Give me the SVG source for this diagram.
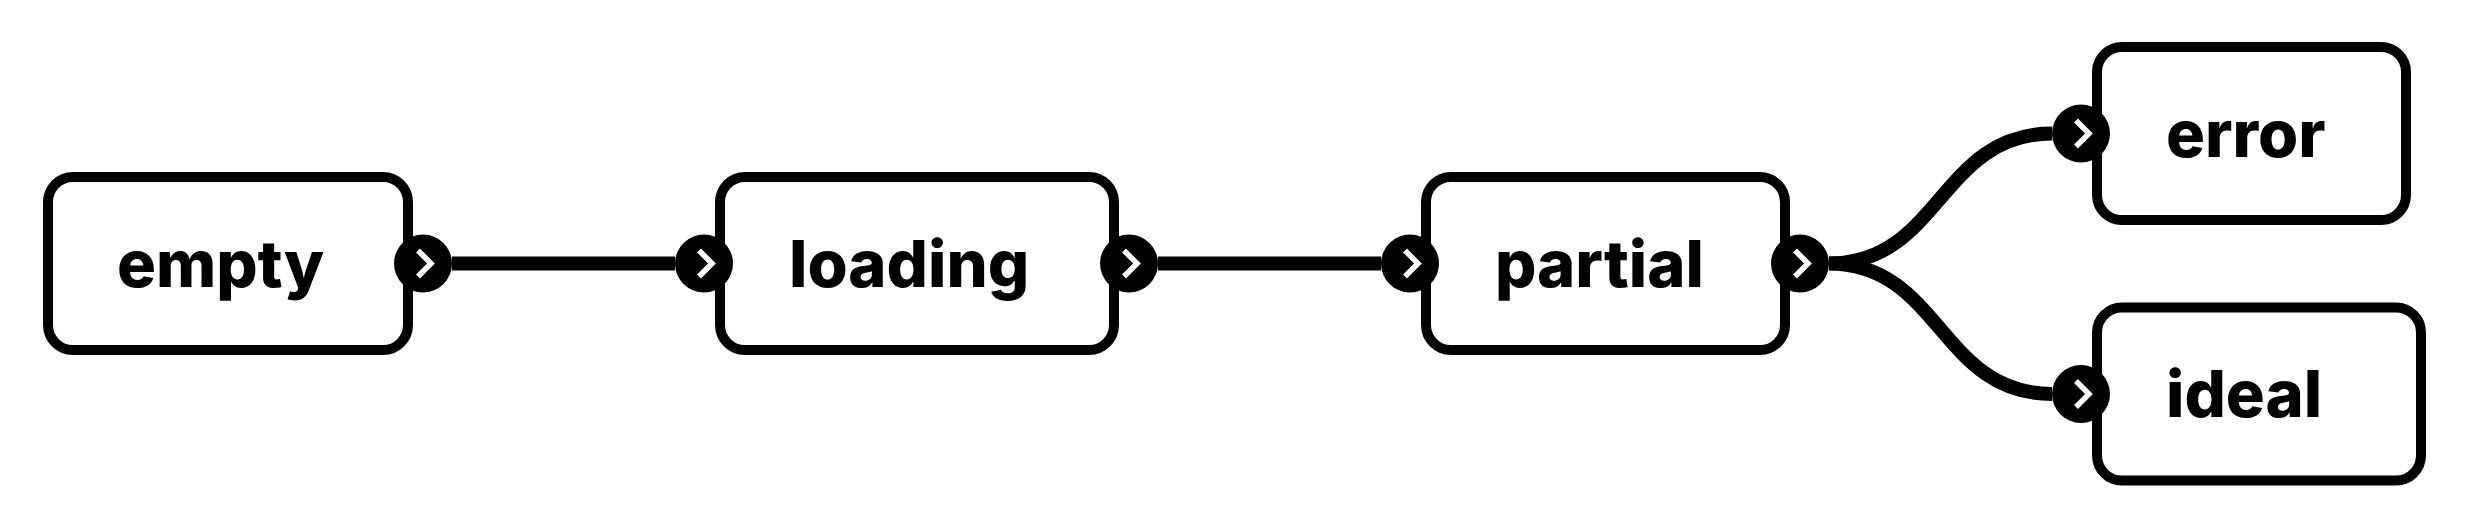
<svg xmlns="http://www.w3.org/2000/svg" xmlns:xlink="http://www.w3.org/1999/xlink" width="2482" height="530" viewBox="0 0 2482 530">
  <style>
    .box { fill: #ffffff; stroke: #000000; stroke-width: 10; }
    .label { font-family: Inter, "Liberation Sans", sans-serif; font-weight: 800; font-size: 65px; fill: #000000; }
    .edge { fill: none; stroke: #000000; stroke-width: 14; }
  </style>
  <defs>
    <g id="port">
      <circle cx="0" cy="0" r="29" fill="#000000"/>
      <polyline points="-5,-13 8,0 -5,13" fill="none" stroke="#ffffff" stroke-width="5.5" stroke-linejoin="miter"/>
    </g>
  </defs>
  <rect width="2482" height="530" fill="#ffffff"/>

  <g id="node-empty">
    <rect class="box" x="48" y="177" width="360" height="173" rx="25"/>
    <text class="label" x="117" y="286.5">empty</text>
  </g>
  <g id="node-loading">
    <rect class="box" x="720" y="177" width="394" height="173" rx="25"/>
    <text class="label" x="789" y="286.5">loading</text>
  </g>
  <g id="node-partial">
    <rect class="box" x="1426" y="177" width="359" height="173" rx="25"/>
    <text class="label" x="1495" y="286.5">partial</text>
  </g>
  <g id="node-error">
    <rect class="box" x="2097" y="47" width="309" height="173" rx="25"/>
    <text class="label" x="2166" y="156.5">error</text>
  </g>
  <g id="node-ideal">
    <rect class="box" x="2097" y="307.5" width="324" height="173" rx="25"/>
    <text class="label" x="2166" y="417">ideal</text>
  </g>

  <g id="connectors">
    <path class="edge" d="M452,263.5 L675,263.5"/>
    <path class="edge" d="M1158,263.5 L1381,263.5"/>
    <path class="edge" d="M1829,263.5 C1940,263.5 1940,133.5 2052,133.5"/>
    <path class="edge" d="M1829,263.5 C1940,263.5 1940,394 2052,394"/>
    <use xlink:href="#port" x="423" y="263.5"/>
    <use xlink:href="#port" x="704" y="263.5"/>
    <use xlink:href="#port" x="1129" y="263.5"/>
    <use xlink:href="#port" x="1410" y="263.5"/>
    <use xlink:href="#port" x="1800" y="263.5"/>
    <use xlink:href="#port" x="2081" y="133.5"/>
    <use xlink:href="#port" x="2081" y="394"/>
  </g>
</svg>
